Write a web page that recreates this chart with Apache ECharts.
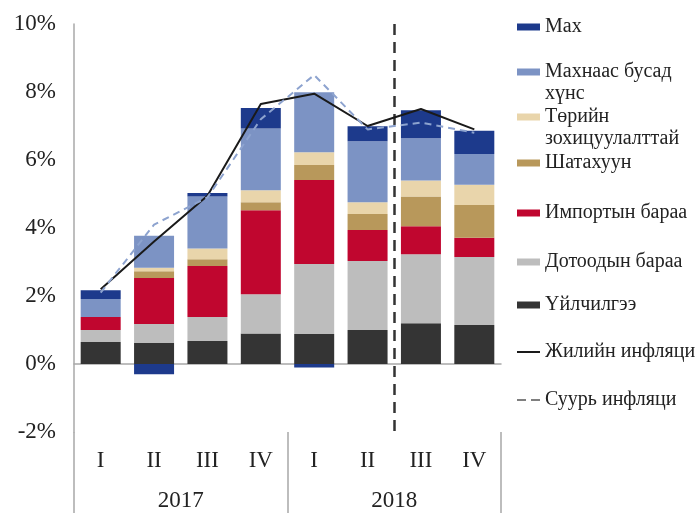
<!DOCTYPE html>
<html>
<head>
<meta charset="utf-8">
<script src="https://cdn.jsdelivr.net/npm/echarts@6/dist/echarts.min.js"></script>
<style>
html, body { margin: 0; padding: 0; background: #fff; }
#chart { width: 699px; height: 513px; }
</style>
</head>
<body>
<div id="chart"></div>
<script>
// quarters / years
var quarters = ['I', 'II', 'III', 'IV', 'I', 'II', 'III', 'IV'];
var years = ['2017', '2018'];

// contributions to inflation, percentage points (bottom -> top of stack)
var services   = [0.65, 0.62, 0.68, 0.90, 0.88, 1.00, 1.20, 1.15];
var domestic   = [0.35, 0.56, 0.70, 1.15, 2.06, 2.03, 2.03, 2.00];
var imported   = [0.38, 1.35, 1.50, 2.47, 2.47, 0.91, 0.82, 0.56];
var fuel       = [0.00, 0.20, 0.20, 0.24, 0.44, 0.47, 0.88, 0.97];
var regulated  = [0.00, 0.10, 0.32, 0.35, 0.38, 0.35, 0.47, 0.59];
var foodNoMeat = [0.53, 0.94, 1.53, 1.82, 1.76, 1.79, 1.24, 0.91];
var meat       = [0.26, -0.30, 0.10, 0.60, -0.10, 0.44, 0.82, 0.68];

// inflation lines, %
var annualInfl = [2.20, 3.60, 4.95, 7.65, 7.95, 7.00, 7.50, 6.90];
var coreInfl   = [2.10, 4.10, 4.90, 7.20, 8.50, 6.90, 7.10, 6.80];

var barNames = ['Үйлчилгээ', 'Дотоодын бараа', 'Импортын бараа', 'Шатахуун',
    'Төрийн зохицуулалттай', 'Махнаас бусад хүнс', 'Мах'];
var barData = [services, domestic, imported, fuel, regulated, foodNoMeat, meat];
var barColors = ['#343434', '#bdbdbd', '#c0062f', '#b8985b', '#e9d5ab', '#7c93c4', '#1d3a8c'];
var lineNames = ['Жилийн инфляци', 'Суурь инфляци'];

var legendOrder = ['Мах', 'Махнаас бусад хүнс', 'Төрийн зохицуулалттай', 'Шатахуун',
    'Импортын бараа', 'Дотоодын бараа', 'Үйлчилгээ', 'Жилийн инфляци', 'Суурь инфляци'];
var wrapped = {
    'Махнаас бусад хүнс': 'Махнаас бусад\nхүнс',
    'Төрийн зохицуулалттай': 'Төрийн\nзохицуулалттай'
};
var legendY = [27, 72, 117, 163, 213, 262, 305, 352, 400];

var font = 'Liberation Serif';
var lh = 22;

var myChart;
function initChart() {
    var chartDom = document.getElementById('chart');
    myChart = echarts.init(chartDom);

    var series = barNames.map(function (name, i) {
        return {
            name: name,
            type: 'bar',
            stack: 'total',
            barWidth: 40,
            xAxisIndex: 0,
            itemStyle: { color: barColors[i] },
            data: barData[i]
        };
    });
    series.push({
        name: lineNames[0],
        type: 'line',
        symbol: 'none',
        z: 5,
        lineStyle: { color: '#1a1a1a', width: 2 },
        itemStyle: { color: '#1a1a1a' },
        data: annualInfl
    });
    series.push({
        name: lineNames[1],
        type: 'line',
        symbol: 'none',
        z: 5,
        lineStyle: { color: '#8da3cf', width: 2, type: [7, 5] },
        itemStyle: { color: '#8da3cf' },
        data: coreInfl
    });

    var legends = legendOrder.map(function (name, i) {
        var isWrapped = !!wrapped[name];
        var icon = 'rect', ih = 7, color;
        if (name === lineNames[0]) { ih = 2; color = '#1a1a1a'; }
        if (name === lineNames[1]) { icon = 'path://M0 0h9v2h-9zM14 0h9v2h-9z'; ih = 2; color = '#7f7f7f'; }
        var item = { name: name, icon: icon };
        if (color) item.itemStyle = { color: color };
        return {
            data: [item],
            orient: 'vertical',
            left: 517,
            top: legendY[i] - (isWrapped ? lh * 1.5 : lh / 2),
            padding: 0,
            itemWidth: 23,
            itemHeight: ih,
            selectedMode: false,
            formatter: function (n) {
                // blank first line keeps the icon level with the first text line
                return wrapped[n] ? ' \n' + wrapped[n] : n;
            },
            textStyle: {
                fontFamily: font,
                fontSize: 20,
                color: '#222',
                lineHeight: lh
            }
        };
    });

    var option = {
        animation: false,
        grid: { left: 74, right: 198, top: 24, bottom: 81 },
        legend: legends,
        xAxis: [
            {
                type: 'category',
                data: quarters,
                axisLine: { onZero: true, lineStyle: { color: '#a8a8a8', width: 1.5 } },
                axisTick: { show: false },
                axisLabel: { show: false }
            },
            {
                type: 'category',
                data: quarters,
                position: 'bottom',
                axisLine: { show: false, onZero: false },
                axisTick: { show: false },
                axisLabel: { margin: 17, fontFamily: font, fontSize: 23, color: '#222' }
            },
            {
                type: 'category',
                data: years,
                position: 'bottom',
                axisLine: { show: false, onZero: false },
                axisTick: { show: true, length: 81, lineStyle: { color: '#a8a8a8', width: 1.5 } },
                axisLabel: { margin: 57, fontFamily: font, fontSize: 23, color: '#222' }
            },
            {
                // helper axis for the dashed year-split line
                type: 'value',
                min: 0,
                max: 8,
                interval: 6,
                position: 'top',
                axisLine: { show: false, onZero: false },
                axisTick: { show: false },
                axisLabel: { show: false },
                splitLine: {
                    show: true,
                    showMinLine: false,
                    showMaxLine: false,
                    lineStyle: { color: '#333', width: 2.5, type: [11, 7] }
                }
            }
        ],
        yAxis: {
            type: 'value',
            min: -2,
            max: 10,
            interval: 2,
            axisLine: { show: true, onZero: false, lineStyle: { color: '#a8a8a8', width: 1.5 } },
            axisTick: { show: false },
            splitLine: { show: false },
            axisLabel: {
                margin: 18,
                fontFamily: font,
                fontSize: 23,
                color: '#222',
                formatter: '{value}%'
            }
        },
        series: series
    };

    option && myChart.setOption(option);
}

document.addEventListener('DOMContentLoaded', function () {
    initChart();
});
</script>
</body>
</html>
